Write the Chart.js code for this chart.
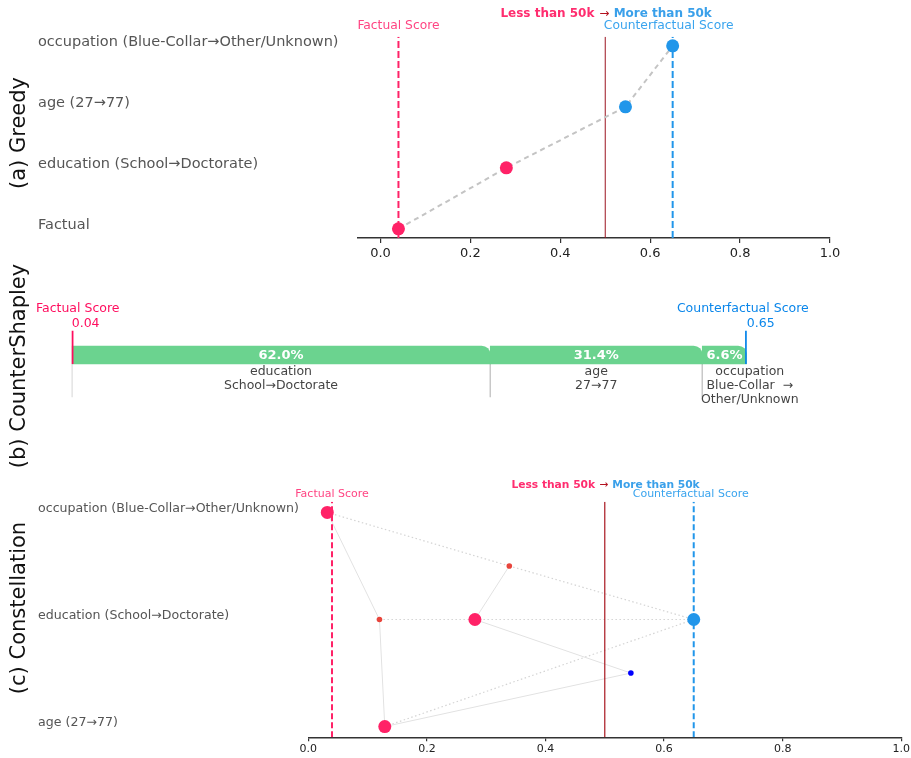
<!DOCTYPE html>
<html>
<head>
<meta charset="utf-8">
<script src="https://cdn.jsdelivr.net/npm/chart.js@4.4.0/dist/chart.umd.min.js"></script>
<style>
  body { margin: 0; background: #fff; }
  #wrap { position: relative; width: 911px; height: 758px; }
  canvas { position: absolute; left: 0; top: 0; }
</style>
</head>
<body>
<div id="wrap">
  <canvas id="greedy" width="911" height="758"></canvas>
  <canvas id="shapley" width="911" height="758"></canvas>
  <canvas id="constellation" width="911" height="758"></canvas>
</div>
<script>
// shared values
const factualScore = 0.04;
const counterfactualScore = 0.65;
const threshold = 0.5;
const xTicks = [0, 0.2, 0.4, 0.6, 0.8, 1.0];

// (a) greedy path
const greedyRows = ["Factual", "education (School→Doctorate)", "age (27→77)", "occupation (Blue-Collar→Other/Unknown)"];
const greedyScores = [0.04, 0.28, 0.545, 0.65];

// (b) countershapley
const shapleyFeatures = ["education", "age", "occupation"];
const shapleyFrom = ["School", "27", "Blue-Collar"];
const shapleyTo = ["Doctorate", "77", "Other/Unknown"];
const shapleyShares = [62.0, 31.4, 6.6];

// (c) constellation: nodes = singles, pairs, all three
const constRows = ["age (27→77)", "education (School→Doctorate)", "occupation (Blue-Collar→Other/Unknown)"];
const constScores = [0.129, 0.281, 0.032, 0.544, 0.12, 0.339, 0.65];
const constRowPos = [0, 1, 2, 0.5, 1, 1.5, 1];
const constSize = [1, 1, 1, 2, 2, 2, 3];
const constSolidEdges = [[2, 4], [4, 0], [0, 3], [3, 1], [1, 5]];
const constDottedEdges = [[2, 5], [5, 6], [4, 6], [0, 6]];

const family = "'DejaVu Sans', 'Noto Sans', sans-serif";
const pink = "#ff2267", blue = "#2196ea";
const pinkText = "#ff4583", blueText = "#3aa4ee";

const vline = (x, y0, y1) => [{x: x, y: y0}, {x: x, y: y1}];

function sideTitle(ctx, text, x, y) {
    ctx.save();
    ctx.translate(x, y);
    ctx.rotate(-Math.PI / 2);
    ctx.font = "21px " + family;
    ctx.fillStyle = "#111";
    ctx.textAlign = "center";
    ctx.textBaseline = "middle";
    ctx.fillText(text, 0, 0);
    ctx.restore();
}

function thresholdCaption(ctx, cx, y, size) {
    ctx.save();
    ctx.textBaseline = "middle";
    ctx.font = "bold " + size + "px " + family;
    ctx.textAlign = "right";
    ctx.fillStyle = "#ff2d6f";
    ctx.fillText("Less than 50k", cx - size * 0.9, y);
    ctx.textAlign = "left";
    ctx.fillStyle = "#3aa0ea";
    ctx.fillText("More than 50k", cx + size * 0.7, y);
    ctx.font = size + "px " + family;
    ctx.textAlign = "center";
    ctx.fillStyle = "#b3121f";
    ctx.fillText("→", cx - 1, y);
    ctx.restore();
}

const noPlugins = { legend: { display: false }, tooltip: { enabled: false } };

// ---------- (a) Greedy ----------
const greedyYMin = -0.15, greedyYMax = 3.15;
new Chart(document.getElementById("greedy"), {
    type: "scatter",
    data: {
        datasets: [
            {
                data: greedyScores.map((v, i) => ({x: v, y: i})),
                showLine: true,
                borderColor: "#c4c4c4",
                borderWidth: 2,
                borderDash: [5, 4],
                pointRadius: 6.5,
                pointHoverRadius: 6.5,
                pointBorderWidth: 0,
                pointBackgroundColor: greedyScores.map(v => v < threshold ? pink : blue),
                order: 0
            },
            { data: vline(factualScore, greedyYMin, greedyYMax), showLine: true, borderColor: pink, borderWidth: 2, borderDash: [7, 3], pointRadius: 0, order: 1 },
            { data: vline(counterfactualScore, greedyYMin, greedyYMax), showLine: true, borderColor: blue, borderWidth: 2, borderDash: [7, 3], pointRadius: 0, order: 1 },
            { data: vline(threshold, greedyYMin, greedyYMax), showLine: true, borderColor: "#9b1420", borderWidth: 1, pointRadius: 0, order: 2 }
        ]
    },
    options: {
        responsive: false,
        animation: false,
        layout: { autoPadding: false, padding: { left: 38, top: 36.7, right: 81, bottom: 496 } },
        plugins: noPlugins,
        scales: {
            x: {
                type: "linear", min: -0.05, max: 1.0,
                afterBuildTicks: s => { s.ticks = xTicks.map(v => ({value: v})); },
                afterFit: s => { s.height = 24; },
                grid: { drawOnChartArea: false, drawTicks: true, tickLength: 5, color: "#333", lineWidth: 1.2 },
                border: { display: true, color: "#333", width: 1.5 },
                ticks: { color: "#222", font: { family: family, size: 13 }, padding: 3, callback: v => v.toFixed(1) }
            },
            y: {
                type: "linear", min: greedyYMin, max: greedyYMax,
                afterBuildTicks: s => { s.ticks = greedyRows.map((_, i) => ({value: i})); },
                afterFit: s => { s.width = 320; },
                grid: { display: false },
                border: { display: false },
                ticks: { crossAlign: "far", color: "#555", font: { family: family, size: 14.5 }, labelOffset: -4, callback: v => greedyRows[v] }
            }
        }
    },
    plugins: [{
        id: "greedyText",
        afterDraw(chart) {
            const {ctx, chartArea, scales: {x}} = chart;
            thresholdCaption(ctx, x.getPixelForValue(threshold), chartArea.top - 23, 12);
            ctx.save();
            ctx.font = "12.3px " + family;
            ctx.textAlign = "center";
            ctx.textBaseline = "middle";
            ctx.fillStyle = pinkText;
            ctx.fillText("Factual Score", x.getPixelForValue(factualScore), chartArea.top - 11);
            ctx.fillStyle = blueText;
            ctx.fillText("Counterfactual Score", x.getPixelForValue(counterfactualScore) - 4, chartArea.top - 11);
            ctx.restore();
            sideTitle(ctx, "(a) Greedy", 20, 133);
        }
    }]
});

// ---------- (b) CounterShapley ----------
let acc = factualScore;
const shapleyBars = shapleyShares.map(s => {
    const start = acc;
    acc += (counterfactualScore - factualScore) * s / 100;
    return [start, acc];
});
const shapleyDatasets = [
    {
        type: "bar",
        indexAxis: "y",
        data: shapleyBars.map(b => ({x: b, y: 0})),
        backgroundColor: "#6bd38f",
        barThickness: 18,
        borderRadius: { topRight: 9 },
        borderSkipped: "start",
        order: 2
    },
    { data: vline(factualScore, -0.5, 1.35), showLine: true, borderColor: "#ff0d5e", borderWidth: 3.5, pointRadius: 0, order: 0 },
    { data: vline(counterfactualScore, -0.5, 1.35), showLine: true, borderColor: "#0a86ea", borderWidth: 3.5, pointRadius: 0, order: 0 }
];
shapleyBars.forEach(b => {
    shapleyDatasets.push({ data: vline(b[0], -0.5, -2.35), showLine: true, borderColor: "#c8c8c8", borderWidth: 1.5, pointRadius: 0, order: 3 });
});

new Chart(document.getElementById("shapley"), {
    type: "scatter",
    data: { datasets: shapleyDatasets },
    options: {
        responsive: false,
        animation: false,
        layout: { autoPadding: false, padding: { left: 71.7, top: 328, right: 164.2, bottom: 358 } },
        plugins: noPlugins,
        scales: {
            x: { type: "linear", min: factualScore, max: counterfactualScore, display: false, offset: false },
            y: { type: "linear", min: -2.5, max: 1.5, display: false, offset: false, grace: 0 }
        }
    },
    plugins: [{
        id: "shapleyText",
        afterDraw(chart) {
            const {ctx, scales: {x}} = chart;
            const bars = chart.getDatasetMeta(0).data;
            ctx.save();
            ctx.textAlign = "center";
            ctx.textBaseline = "middle";
            bars.forEach((el, i) => {
                const left = Math.min(el.x, el.base), right = Math.max(el.x, el.base);
                ctx.font = "bold 13px " + family;
                ctx.fillStyle = "#fff";
                ctx.fillText(shapleyShares[i].toFixed(1) + "%", (left + right) / 2, el.y + 1);
                ctx.font = "12.5px " + family;
                ctx.fillStyle = "#444";
                let lines, cx;
                if (right - left < 60) {
                    lines = [shapleyFeatures[i], shapleyFrom[i] + "  →", shapleyTo[i]];
                    cx = right + 3;
                } else {
                    lines = [shapleyFeatures[i], shapleyFrom[i] + "→" + shapleyTo[i]];
                    cx = (left + right) / 2;
                }
                lines.forEach((t, k) => ctx.fillText(t, cx, el.y + 17 + k * 14));
            });
            const fx = x.getPixelForValue(factualScore), cfx = x.getPixelForValue(counterfactualScore);
            ctx.font = "12.5px " + family;
            ctx.fillStyle = "#ff0d5e";
            ctx.fillText("Factual Score", fx + 6, 309);
            ctx.textAlign = "left";
            ctx.fillText(factualScore.toFixed(2), fx, 324);
            ctx.fillStyle = "#0a86ea";
            ctx.fillText(counterfactualScore.toFixed(2), cfx, 324);
            ctx.textAlign = "center";
            ctx.fillText("Counterfactual Score", cfx - 4, 309);
            ctx.restore();
            sideTitle(ctx, "(b) CounterShapley", 20, 366);
        }
    }]
});

// ---------- (c) Constellation ----------
const constYMin = -0.1, constYMax = 2.1;
const edgeSet = (edges, style) => edges.map(e => Object.assign({
    data: e.map(n => ({x: constScores[n], y: constRowPos[n]})),
    showLine: true, pointRadius: 0, borderWidth: 1, order: 3
}, style));

new Chart(document.getElementById("constellation"), {
    type: "scatter",
    data: {
        datasets: [
            {
                data: constScores.map((v, i) => ({x: v, y: constRowPos[i]})),
                pointRadius: constSize.map(s => s === 2 ? 2.8 : 6.5),
                pointHoverRadius: constSize.map(s => s === 2 ? 2.8 : 6.5),
                pointBorderWidth: 0,
                pointBackgroundColor: constScores.map((v, i) => constSize[i] === 2 ? (v < threshold ? "#e8453c" : "#0000ff") : (v < threshold ? pink : blue)),
                order: 0
            },
            { data: vline(factualScore, constYMin, constYMax), showLine: true, borderColor: pink, borderWidth: 2, borderDash: [6, 3], pointRadius: 0, order: 1 },
            { data: vline(counterfactualScore, constYMin, constYMax), showLine: true, borderColor: blue, borderWidth: 2, borderDash: [6, 3], pointRadius: 0, order: 1 },
            { data: vline(threshold, constYMin, constYMax), showLine: true, borderColor: "#a8161f", borderWidth: 1.2, pointRadius: 0, order: 2 },
            ...edgeSet(constSolidEdges, { borderColor: "#e2e2e2" }),
            ...edgeSet(constDottedEdges, { borderColor: "#d4d4d4", borderDash: [1.5, 2.5], borderWidth: 1.2 })
        ]
    },
    options: {
        responsive: false,
        animation: false,
        layout: { autoPadding: false, padding: { left: 38, top: 501.7, right: 9.4, bottom: 1.7 } },
        plugins: noPlugins,
        scales: {
            x: {
                type: "linear", min: 0, max: 1.0,
                afterBuildTicks: s => { s.ticks = xTicks.map(v => ({value: v})); },
                afterFit: s => { s.height = 19; },
                grid: { drawOnChartArea: false, drawTicks: true, tickLength: 4, color: "#333", lineWidth: 1.2 },
                border: { display: true, color: "#333", width: 1.5 },
                ticks: { color: "#222", font: { family: family, size: 11 }, padding: 1, callback: v => v.toFixed(1) }
            },
            y: {
                type: "linear", min: constYMin, max: constYMax,
                afterBuildTicks: s => { s.ticks = constRows.map((_, i) => ({value: i})); },
                afterFit: s => { s.width = 270.3; },
                grid: { display: false },
                border: { display: false },
                ticks: { crossAlign: "far", color: "#555", font: { family: family, size: 12.6 }, labelOffset: -4, callback: v => constRows[v] }
            }
        }
    },
    plugins: [{
        id: "constText",
        afterDraw(chart) {
            const {ctx, chartArea, scales: {x}} = chart;
            thresholdCaption(ctx, x.getPixelForValue(threshold), chartArea.top - 16, 10.7);
            ctx.save();
            ctx.font = "11px " + family;
            ctx.textAlign = "center";
            ctx.textBaseline = "middle";
            ctx.fillStyle = pinkText;
            ctx.fillText("Factual Score", x.getPixelForValue(factualScore), chartArea.top - 8);
            ctx.fillStyle = blueText;
            ctx.fillText("Counterfactual Score", x.getPixelForValue(counterfactualScore) - 3, chartArea.top - 8);
            ctx.restore();
            sideTitle(ctx, "(c) Constellation", 20, 608);
        }
    }]
});
</script>
</body>
</html>
